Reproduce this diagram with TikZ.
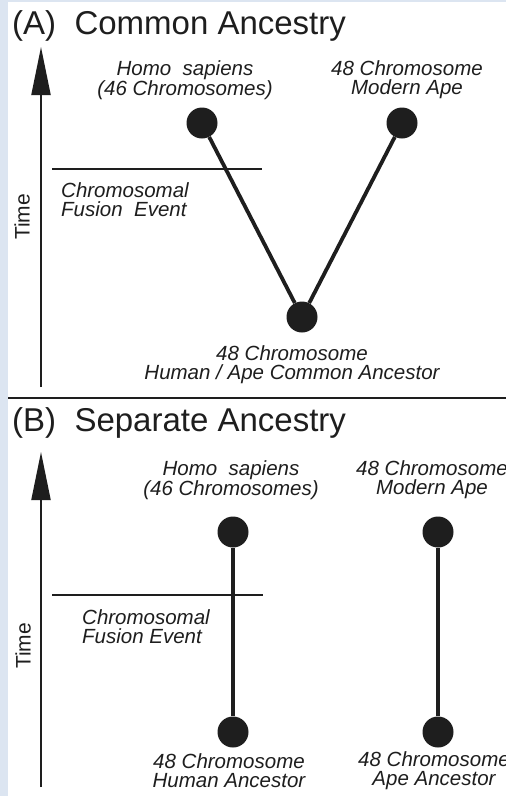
\documentclass[tikz,border=0pt]{standalone}
\usepackage{fontspec}
\setmainfont{Liberation Sans}
\usetikzlibrary{arrows.meta}
\definecolor{frameblue}{HTML}{DCE5F1}
\definecolor{ink}{HTML}{1E1E1E}

\begin{document}
\begin{tikzpicture}[x=1pt,y=-1pt,
  dot/.style={circle,fill=ink,inner sep=0pt,minimum size=31pt},
  lbl/.style={font=\fontsize{20.5}{19}\selectfont\itshape,text=ink,inner sep=0pt,align=center},
  fuselbl/.style={lbl,align=left,anchor=west},
  head/.style={font=\fontsize{33}{34}\selectfont,text=ink,anchor=west,inner sep=0pt},
  timelbl/.style={font=\fontsize{21}{22}\selectfont,text=ink,rotate=90,inner sep=0pt},
  axis/.style={line width=2pt,ink,-{Triangle[length=48pt,width=19pt]}},
  branch/.style={line width=3.8pt,ink},
  fuse/.style={line width=2pt,ink}]
\path[use as bounding box] (0,0) rectangle (506,796);
\fill[frameblue] (0,0) rectangle (506,796);
\fill[white] (8,2) rectangle (506,796);

% (A) common ancestry
\node[head] (titleA) at (12,26) {(A)\ \ Common Ancestry};
\coordinate (axisAbot) at (41,387);
\coordinate (axisAtop) at (41,47);
\draw[axis] (axisAbot) -- (axisAtop);
\node[timelbl] (timeA) at (22,217) {Time};

\coordinate (fuseAl) at (52,169);
\coordinate (fuseAr) at (262,169);
\draw[fuse] (fuseAl) -- (fuseAr);
\node[fuselbl] (fuseAtxt) at (61,200) {Chromosomal\\Fusion\ \ Event};

\node[dot] (homoA) at (202,123) {};
\node[dot] (apeA) at (402,123) {};
\node[dot] (ancA) at (302,317) {};
\draw[branch] (homoA) -- (ancA);
\draw[branch] (apeA) -- (ancA);

\node[lbl] (homoAtxt) at (185,80) {Homo\ \ sapiens\\(46 Chromosomes)};
\node[lbl] (apeAtxt) at (407,80) {48 Chromosome\\Modern Ape};
\node[lbl] (ancAtxt) at (292,365) {48 Chromosome\\Human / Ape Common Ancestor};

% separator
\coordinate (sepl) at (8,398);
\coordinate (sepr) at (506,398);
\draw[line width=2.5pt,ink] (sepl) -- (sepr);

% (B) separate ancestry
\node[head] (titleB) at (12,423) {(B)\ \ Separate Ancestry};
\coordinate (axisBbot) at (41,787);
\coordinate (axisBtop) at (41,452);
\draw[axis] (axisBbot) -- (axisBtop);
\node[timelbl] (timeB) at (23,646) {Time};

\coordinate (fuseBl) at (52,595);
\coordinate (fuseBr) at (263,595);
\draw[fuse] (fuseBl) -- (fuseBr);
\node[fuselbl] (fuseBtxt) at (82,627) {Chromosomal\\Fusion Event};

\node[dot] (homoB) at (233,532) {};
\node[dot] (apeB) at (438,532) {};
\node[dot] (humB) at (233,732) {};
\node[dot] (apeancB) at (438,732) {};
\draw[branch] (homoB) -- (humB);
\draw[branch] (apeB) -- (apeancB);

\node[lbl] (homoBtxt) at (231,480) {Homo\ \ sapiens\\(46 Chromosomes)};
\node[lbl] (apeBtxt) at (432,480) {48 Chromosome\\Modern Ape};
\node[lbl] (humBtxt) at (229,771) {48 Chromosome\\Human Ancestor};
\node[lbl] (apeancBtxt) at (434,771) {48 Chromosome\\Ape Ancestor};
\end{tikzpicture}
\end{document}
